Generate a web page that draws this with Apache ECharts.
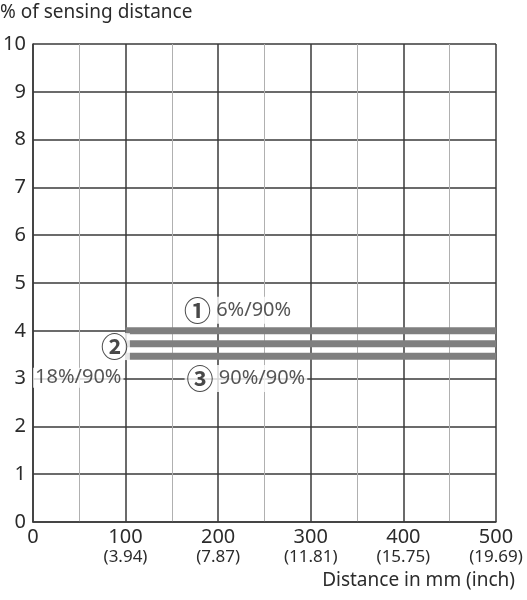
<!DOCTYPE html>
<html>
<head>
<meta charset="utf-8">
<script src="https://cdn.jsdelivr.net/npm/echarts@6/dist/echarts.min.js"></script>
<style>
html,body{margin:0;padding:0;background:#fff;}
#c{width:527px;height:600px;}
</style>
</head>
<body>
<div id="c"></div>
<script>
// ---- data ----
const xTicks = [0, 100, 200, 300, 400, 500];
const xInchLabels = ['', '(3.94)', '(7.87)', '(11.81)', '(15.75)', '(19.69)'];
const yTicks = [0, 1, 2, 3, 4, 5, 6, 7, 8, 9, 10];
const seriesNames = ['6%/90%', '18%/90%', '90%/90%'];
const seriesX = [100, 500];
const series1Y = [4.0, 4.0];
const series2Y = [3.73, 3.73];
const series3Y = [3.47, 3.47];
const annotations = [
  { mark: '①', text: '6%/90%', x: 221, y: 4.43 },
  { mark: '②', text: '', x: 88, y: 3.67 },
  { mark: '', text: '18%/90%', x: 49, y: 3.02 },
  { mark: '③', text: '90%/90%', x: 230, y: 3.0 }
];
const yTitle = '% of sensing distance';
const xTitle = 'Distance in mm (inch)';

const FONT = 'Noto Sans';
const TXT = '#2b2b2b';
const chart = echarts.init(document.getElementById('c'), null, { renderer: 'canvas' });

function mk(ys) { return seriesX.map((x, i) => [x, ys[i]]); }

const lineStyle = { color: '#7f7f7f', width: 7, cap: 'butt' };
chart.setOption({
  animation: false,
  grid: { left: 32, right: 31, top: 44, bottom: 78, containLabel: false },
  xAxis: {
    type: 'value', min: 0, max: 500, interval: 100,
    axisLine: { show: true, lineStyle: { color: '#3a3a3a', width: 1.5 } },
    axisTick: { show: false },
    splitLine: { show: true, lineStyle: { color: '#3a3a3a', width: 1.5 } },
    minorTick: { show: false, splitNumber: 2 },
    minorSplitLine: { show: true, lineStyle: { color: '#b0b0b0', width: 1 } },
    axisLabel: {
      margin: 5,
      formatter: function (v) {
        const i = xTicks.indexOf(v);
        const inch = i >= 0 ? xInchLabels[i] : '';
        return '{a|' + v + '}' + (inch ? '\n{b|' + inch + '}' : '');
      },
      rich: {
        a: { fontFamily: FONT, fontSize: 20, color: TXT, lineHeight: 21 },
        b: { fontFamily: FONT, fontSize: 17, color: TXT, lineHeight: 19 }
      }
    }
  },
  yAxis: {
    type: 'value', min: 0, max: 10, interval: 1,
    axisLine: { show: true, lineStyle: { color: '#3a3a3a', width: 1.5 } },
    axisTick: { show: false },
    splitLine: { show: true, lineStyle: { color: '#3a3a3a', width: 1.5 } },
    axisLabel: { margin: 7, fontFamily: FONT, fontSize: 20, color: TXT,
      formatter: v => yTicks.indexOf(v) >= 0 ? String(v) : '' }
  },
  series: [
    { name: seriesNames[0], type: 'line', data: mk(series1Y), symbol: 'none', lineStyle: lineStyle, z: 3 },
    { name: seriesNames[1], type: 'line', data: mk(series2Y), symbol: 'none', lineStyle: lineStyle, z: 3 },
    { name: seriesNames[2], type: 'line', data: mk(series3Y), symbol: 'none', lineStyle: lineStyle, z: 3 },
    {
      type: 'scatter', symbolSize: 0, z: 5,
      data: annotations.map(a => ({ value: [a.x, a.y], mark: a.mark, txt: a.text })),
      label: {
        show: true, position: 'inside',
        formatter: p => {
          const d = p.data;
          let s = '';
          if (d.mark) s += '{m|' + d.mark + '}';
          if (d.mark && d.txt) s += '{t| }';
          if (d.txt) s += '{t|' + d.txt + '}';
          return s;
        },
        rich: {
          m: { fontFamily: 'Noto Sans CJK SC', fontSize: 27, fontWeight: 'bold', color: '#1a1a1a', verticalAlign: 'middle' },
          t: { fontFamily: FONT, fontSize: 20, color: TXT, verticalAlign: 'middle' }
        },
        backgroundColor: '#fff', padding: [0, 2]
      },
      silent: true
    }
  ],
  graphic: [
    { type: 'text', left: 0, top: 3, style: { text: yTitle, fontFamily: FONT, fontSize: 19, fill: TXT } },
    { type: 'text', right: 12, top: 571, style: { text: xTitle, fontFamily: FONT, fontSize: 19, fill: TXT } }
  ]
});
</script>
</body>
</html>
